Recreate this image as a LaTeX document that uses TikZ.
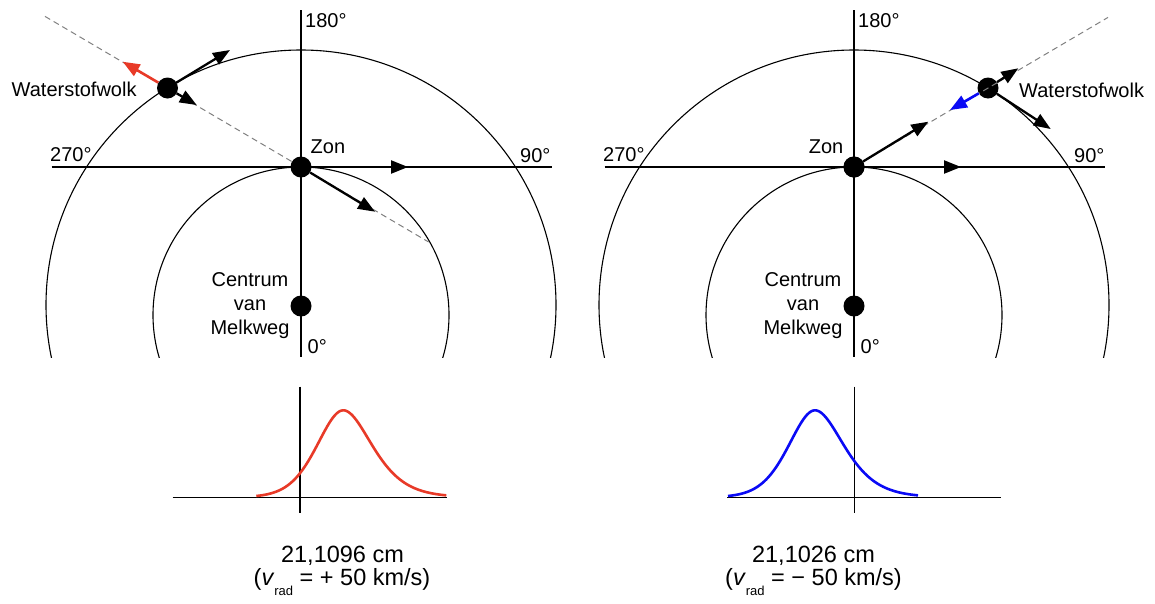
\documentclass[tikz,border=0pt]{standalone}
\usepackage{fontspec}
\setmainfont{Liberation Sans}
\usetikzlibrary{arrows.meta}
\definecolor{hred}{RGB}{232,58,40}
\definecolor{hblue}{RGB}{10,10,245}
\tikzset{
  axis/.style={line width=1.2pt},
  orbit/.style={line width=1.1pt},
  ray/.style={gray, line width=1pt, dash pattern=on 6pt off 4pt},
  vec/.style={line width=2.3pt, arrows={-Triangle[length=17pt,width=13pt]}},
  dot/.style={circle, fill=black, inner sep=0pt, minimum size=21pt},
  lab/.style={font=\fontsize{20}{24}\selectfont, inner sep=0pt},
  big/.style={font=\fontsize{23.5}{28}\selectfont, inner sep=0pt},
  declare function={sg(\t)=(\t<0)*(24-0.07*\t)+(\t>=0)*(25+0.12*\t);
                    pk(\t)=87*exp(-(\t*\t)/(2*sg(\t)*sg(\t)));}
}
\begin{document}
\begin{tikzpicture}[x=1pt,y=-1pt]
\useasboundingbox (0,0) rectangle (1155,603);

% ---------- left diagram ----------
\coordinate (a1t) at (301,10);  \coordinate (a1b) at (301,357);
\coordinate (a1l) at (51.5,167); \coordinate (a1r) at (552,167);
\draw[axis] (a1t) -- (a1b);
\draw[axis] (a1l) -- (a1r);
\begin{scope}
  \clip (0,0) rectangle (578,357);
  \draw[orbit] (301,305) circle[radius=255];
  \draw[orbit] (301,315) circle[radius=148];
\end{scope}
\coordinate (rayLa) at (45,16.4); \coordinate (rayLb) at (428.6,242);
\draw[ray] (rayLa) -- (rayLb);

\node[dot] (zonL) at (301,167) {};
\node[dot] (cenL) at (301,306) {};
\node[dot] (wtL) at (167.5,88) {};

\coordinate (zhL) at (408,167);
\coordinate (zdL) at (375,211.7);
\coordinate (tanL) at (230,50);
\coordinate (redL) at (122.7,61.7);
\coordinate (inL) at (196.7,105);
\draw[vec] (zonL) -- (zhL);
\draw[vec] (zonL) -- (zdL);
\draw[vec] (wtL) -- (tanL);
\draw[vec] (wtL) -- (inL);
\draw[vec, hred, line width=2.6pt] (wtL) -- (redL);

\node[lab, anchor=base west] (t180L) at (305,27) {180°};
\node[lab, anchor=base west] (t270L) at (50,161.5) {270°};
\node[lab, anchor=base west] (t90L) at (520,162) {90°};
\node[lab, anchor=base west] (t0L) at (307.5,353) {0°};
\node[lab, anchor=base west] (tzonL) at (310.5,153) {Zon};
\node[lab, anchor=base west] (twL) at (11.5,96.5) {Waterstofwolk};
\node[lab, anchor=base] (tc1L) at (250,286.7) {Centrum};
\node[lab, anchor=base] (tc2L) at (250,310) {van};
\node[lab, anchor=base] (tc3L) at (250,334) {Melkweg};

% ---------- right diagram ----------
\coordinate (a2t) at (854,10);  \coordinate (a2b) at (854,357);
\coordinate (a2l) at (604.5,167); \coordinate (a2r) at (1105,167);
\draw[axis] (a2t) -- (a2b);
\draw[axis] (a2l) -- (a2r);
\begin{scope}
  \clip (578,0) rectangle (1155,357);
  \draw[orbit] (854,305) circle[radius=255];
  \draw[orbit] (854,315) circle[radius=148];
\end{scope}
\coordinate (rayRb) at (1108,17.4);
\node[dot] (zonR) at (854,167) {};
\node[dot] (cenR) at (854,306) {};
\node[dot] (wtR) at (988,88) {};
\draw[ray] (zonR.center) -- (rayRb);

\coordinate (zhR) at (961,167);
\coordinate (zdR) at (928.3,121.7);
\coordinate (tanR) at (1050.7,129);
\coordinate (outR) at (1018.3,68.3);
\coordinate (blueR) at (950,110);
\draw[vec] (zonR) -- (zhR);
\draw[vec] (zonR) -- (zdR);
\draw[vec] (wtR) -- (tanR);
\draw[vec] (wtR) -- (outR);
\draw[vec, hblue, line width=2.6pt] (wtR) -- (blueR);
\node[dot] at (zonR) {};

\node[lab, anchor=base west] (t180R) at (858,27) {180°};
\node[lab, anchor=base west] (t270R) at (603,161.5) {270°};
\node[lab, anchor=base west] (t90R) at (1074,162) {90°};
\node[lab, anchor=base west] (t0R) at (860.5,353) {0°};
\node[lab, anchor=base east] (tzonR) at (843.5,153) {Zon};
\node[lab, anchor=base west] (twR) at (1019,97.5) {Waterstofwolk};
\node[lab, anchor=base] (tc1R) at (803,286.7) {Centrum};
\node[lab, anchor=base] (tc2R) at (803,310) {van};
\node[lab, anchor=base] (tc3R) at (803,334) {Melkweg};

% ---------- spectra ----------
\coordinate (s1l) at (172.7,497.3); \coordinate (s1r) at (446.7,497.3);
\coordinate (s1t) at (300,386.7);   \coordinate (s1b) at (300,513);
\draw[axis] (s1l) -- (s1r);
\draw[axis] (s1t) -- (s1b);
\draw[hred, line width=2.6pt, line join=round] plot[domain=-87:103, samples=100] ({343.3+\x},{497.3-pk(\x)});

\coordinate (s2l) at (727.3,497.3); \coordinate (s2r) at (1000.7,497.3);
\coordinate (s2t) at (854.3,386.7); \coordinate (s2b) at (854.3,513);
\draw[axis] (s2l) -- (s2r);
\draw[axis] (s2t) -- (s2b);
\draw[hblue, line width=2.6pt, line join=round] plot[domain=-87:103, samples=100] ({815+\x},{497.3-pk(\x)});

\node[big, anchor=base] (w1) at (342.5,562) {21,1096 cm};
\node[big, anchor=base] (v1) at (342,585) {(\textit{v}\raisebox{-0.45em}{\fontsize{13}{13}\selectfont rad} = + 50 km/s)};
\node[big, anchor=base] (w2) at (813.5,562) {21,1026 cm};
\node[big, anchor=base] (v2) at (813.5,585) {(\textit{v}\raisebox{-0.45em}{\fontsize{13}{13}\selectfont rad} = − 50 km/s)};
\end{tikzpicture}
\end{document}
